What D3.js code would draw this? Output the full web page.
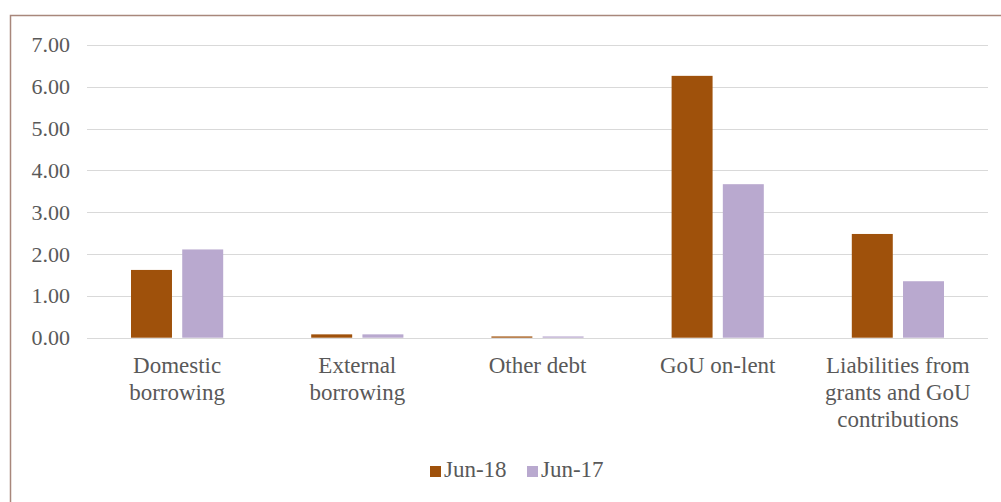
<!DOCTYPE html>
<html>
<head>
<meta charset="utf-8">
<script src="https://cdn.jsdelivr.net/npm/d3@7/dist/d3.min.js"></script>
<style>
  body { margin: 0; background: #fff; }
  svg text { font-family: "Liberation Serif", serif; }
</style>
</head>
<body>
<div id="chart"></div>
<script>
// Data
const categories = [
    ["Domestic", "borrowing"],
    ["External", "borrowing"],
    ["Other debt"],
    ["GoU on-lent"],
    ["Liabilities from", "grants and GoU", "contributions"]
];
const seriesNames = ["Jun-18", "Jun-17"];
const jun18 = [1.62, 0.08, 0.03, 6.26, 2.48];
const jun17 = [2.11, 0.08, 0.03, 3.67, 1.35];
const yTicks = [0, 1, 2, 3, 4, 5, 6, 7];

const width = 1001;
const height = 502;
const margin = { top: 45, right: 13, bottom: 164, left: 87 };
const font = "'Liberation Serif', serif";

const colors = ["#9F510B", "#B9A9CF"];

const svg = d3.select("#chart")
    .append("svg")
    .attr("width", width)
    .attr("height", height);

// Frame
svg.append("rect")
    .attr("x", 10.5)
    .attr("y", 15.5)
    .attr("width", width)
    .attr("height", height)
    .attr("fill", "none")
    .attr("stroke", "#A8877B")
    .attr("stroke-width", 1.5);

const keys = categories.map((c, i) => i);

const x = d3.scaleBand()
    .domain(keys)
    .range([margin.left, width - margin.right]);

const x1 = d3.scaleBand()
    .domain(seriesNames)
    .range([44, x.bandwidth() - 44])
    .paddingInner(0.2);

const y = d3.scaleLinear()
    .domain([0, 7])
    .range([337.7, 44.9]);

// Gridlines
svg.append("g")
    .selectAll("line")
    .data(yTicks)
    .enter()
    .append("line")
    .attr("x1", margin.left)
    .attr("x2", width - margin.right)
    .attr("y1", d => Math.round(y(d)) + 0.5)
    .attr("y2", d => Math.round(y(d)) + 0.5)
    .attr("stroke", "#D9D9D9")
    .attr("stroke-width", 1);

// Y axis labels
const yAxis = d3.axisLeft(y)
    .tickValues(yTicks)
    .tickFormat(d3.format(".2f"))
    .tickSize(0)
    .tickPadding(0);

svg.append("g")
    .attr("transform", `translate(70, 0)`)
    .call(yAxis)
    .call(g => g.select(".domain").remove())
    .selectAll("text")
    .attr("fill", "#595959")
    .style("font-size", "22px")
    .style("font-family", font);

// Bars
const series = [jun18, jun17];
const groups = svg.append("g")
    .selectAll("g")
    .data(keys)
    .enter()
    .append("g")
    .attr("transform", d => `translate(${x(d)}, 0)`);

groups.selectAll("rect")
    .data(i => seriesNames.map((s, j) => ({ s, j, v: series[j][i] })))
    .enter()
    .append("rect")
    .attr("x", d => x1(d.s))
    .attr("width", x1.bandwidth())
    .attr("y", d => y(d.v))
    .attr("height", d => y(0) - y(d.v))
    .attr("fill", d => colors[d.j]);

// Category labels
const labels = svg.append("g")
    .selectAll("text")
    .data(keys)
    .enter()
    .append("text")
    .attr("x", d => x(d) + x.bandwidth() / 2)
    .attr("y", 373)
    .attr("text-anchor", "middle")
    .attr("fill", "#595959")
    .style("font-size", "23px")
    .style("font-family", font);

labels.selectAll("tspan")
    .data(i => categories[i])
    .enter()
    .append("tspan")
    .attr("x", function () { return d3.select(this.parentNode).attr("x"); })
    .attr("dy", (d, i) => i === 0 ? 0 : 27)
    .text(d => d);

// Legend
const legendX = [430, 527];
const legend = svg.append("g")
    .selectAll("g")
    .data(seriesNames)
    .enter()
    .append("g")
    .attr("transform", (d, i) => `translate(${legendX[i]}, 466)`);

legend.append("rect")
    .attr("width", 11)
    .attr("height", 11)
    .attr("fill", (d, i) => colors[i]);

legend.append("text")
    .attr("x", 14)
    .attr("y", 11)
    .attr("fill", "#595959")
    .style("font-size", "23px")
    .style("font-family", font)
    .text(d => d);
</script>
</body>
</html>
